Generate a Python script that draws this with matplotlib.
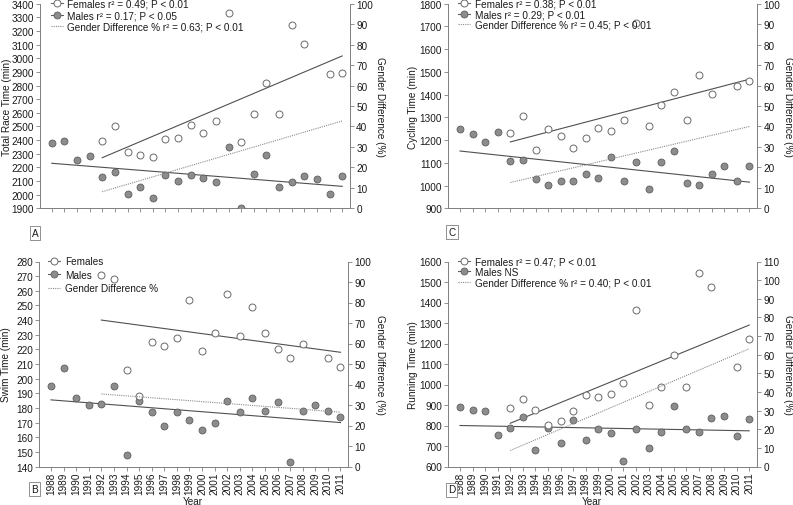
import matplotlib
matplotlib.use('Agg')
import matplotlib.pyplot as plt
import numpy as np
from matplotlib.lines import Line2D

plt.rcParams['font.family'] = ['Liberation Sans', 'DejaVu Sans']

nan = np.nan
years = list(range(1988, 2012))

# Panel A: total race time
total_fem = [nan, nan, nan, nan, 2391, 2501, 2310, 2288, 2274, 2408, 2416, 2512,
             2455, 2543, 3332, 2389, 2591, 2819, 2594, 3246, 3104, nan, 2885, 2892]
total_male = [2379, 2391, 2257, 2281, 2127, 2169, 2008, 2056, 1973, 2147, 2103, 2147,
              2122, 2093, 2347, 1905, 2149, 2288, 2054, 2093, 2135, 2113, 2008, 2135]
# Panel C: cycling time
cyc_fem = [nan, nan, nan, nan, 1232, 1304, 1155, 1251, 1217, 1167, 1208, 1255,
           1239, 1288, 1714, 1261, 1354, 1412, 1289, 1485, 1404, nan, 1440, 1460]
cyc_male = [1250, 1227, 1190, 1236, 1106, 1114, 1028, 1002, 1022, 1022, 1049, 1035,
            1125, 1020, 1102, 987, 1102, 1151, 1010, 1004, 1052, 1085, 1022, 1085]
# Panel B: swim time
swim_fem = [nan, nan, nan, nan, 271, 268, 206, 188, 225, 222, 228, 254,
            219, 231, 258, 229, 249, 231, 220, 214, 224, nan, 214, 208]
swim_male = [195, 207, 187, 182, 183, 195, 148, 185, 177, 168, 177, 172,
             165, 170, 185, 177, 187, 178, 184, 143, 178, 182, 178, 174]
# Panel D: running time
run_fem = [nan, nan, nan, nan, 886, 931, 876, 803, 821, 871, 947, 939,
           956, 1009, 1361, 899, 986, 1144, 986, 1546, 1475, nan, 1087, 1223]
run_male = [889, 876, 869, 754, 787, 842, 680, 790, 715, 827, 730, 782,
            761, 626, 783, 689, 769, 895, 783, 770, 839, 847, 748, 834]

# Regression lines (start/end values)
fem_trend_years = [1992, 2011]
male_trend_years = [1988, 2011]
diff_trend_years = [1992, 2011]
total_fem_trend = [2271, 3017]
total_male_trend = [2230, 2061]
total_diff_trend = [8.1, 42.7]
cyc_fem_trend = [1192, 1468]
cyc_male_trend = [1152, 1015]
cyc_diff_trend = [12.6, 40.0]
swim_fem_trend = [240, 218]
swim_male_trend = [185.5, 170]
swim_diff_trend = [35.4, 26.5]
run_fem_trend = [811, 1290]
run_male_trend = [800, 774]
run_diff_trend = [8.6, 63.2]

W, H = 793, 506
fig = plt.figure(figsize=(W / 100, H / 100), dpi=100)

SPINE = '#7f7f7f'
MALE_FC = '#8c8c8c'
MALE_EC = '#5e5e5e'
FEM_EC = '#6a6a6a'
TREND = '#505050'
DIFF = '#8a8a8a'
FS = 7.2


def rect(l, r, t, b):
    return [l / W, 1 - b / H, (r - l) / W, (b - t) / H]


def panel(px, fem, male, fem_tr, male_tr, diff_tr, ylim, ystep, rlim, ylabel,
          labels, letter, letter_xy, show_years, leg_x, leg_y, leg_sp,
          ylab_x, rlab_x, year_xy):
    l, r, t, b = px
    ax = fig.add_axes(rect(l, r, t, b))
    ax2 = ax.twinx()
    ax.set_xlim(1987.07, 2011.62)
    ax.set_ylim(*ylim)
    ax2.set_ylim(*rlim)
    ax.set_yticks(np.arange(ylim[0], ylim[1] + ystep / 2, ystep))
    ax2.set_yticks(np.arange(rlim[0], rlim[1] + 5, 10))
    ax.set_xticks(years)
    if show_years:
        ax.set_xticklabels([str(y) for y in years], rotation=90,
                           fontsize=5.5,
                           family=['Liberation Sans Narrow', 'Liberation Sans'])
    else:
        ax.set_xticklabels([])
    for s in ['top', 'right']:
        ax.spines[s].set_visible(False)
    for s in ['top', 'left', 'bottom']:
        ax2.spines[s].set_visible(False)
    for s in ['left', 'bottom']:
        ax.spines[s].set_color(SPINE)
        ax.spines[s].set_linewidth(0.7)
    ax2.spines['right'].set_color(SPINE)
    ax2.spines['right'].set_linewidth(0.7)
    for a in (ax, ax2):
        a.tick_params(direction='out', length=3, width=0.6, color=SPINE,
                      labelsize=FS, pad=1.5, labelcolor='#1a1a1a')
    ax.tick_params(axis='x', pad=0.5)

    ax.plot(fem_trend_years, fem_tr, color=TREND, lw=0.8, zorder=2)
    ax.plot(male_trend_years, male_tr, color=TREND, lw=0.8, zorder=2)
    ax2.plot(diff_trend_years, diff_tr, color=DIFF, lw=0.8, ls=(0, (1, 1)),
             zorder=2)
    ax.plot(years, male, ls='none', marker='o', ms=5.0, mfc=MALE_FC,
            mec=MALE_EC, mew=0.6, zorder=3)
    ax.plot(years, fem, ls='none', marker='o', ms=5.0, mfc='white',
            mec=FEM_EC, mew=0.7, zorder=3)

    handles = [
        Line2D([], [], color=FEM_EC, lw=0.8, marker='o', ms=5.0, mfc='white',
               mec=FEM_EC, mew=0.7),
        Line2D([], [], color=MALE_EC, lw=0.8, marker='o', ms=5.0,
               mfc=MALE_FC, mec=MALE_EC, mew=0.6),
        Line2D([], [], color=DIFF, lw=0.8, ls=(0, (1, 1))),
    ]
    leg = ax.legend(handles, labels, loc='upper left',
                    bbox_to_anchor=(leg_x, leg_y), frameon=False,
                    fontsize=FS, handlelength=1.2, handletextpad=0.45,
                    borderpad=0, borderaxespad=0, labelspacing=leg_sp,
                    numpoints=1)
    for txt in leg.get_texts():
        txt.set_color('#1a1a1a')

    cy = 1 - ((t + b) / 2) / H
    fig.text(ylab_x / W, cy, ylabel, rotation=90, ha='center', va='center',
             fontsize=FS, color='#1a1a1a')
    fig.text(rlab_x / W, cy, 'Gender Difference (%)', rotation=270,
             ha='center', va='center', fontsize=FS, color='#1a1a1a')
    fig.text(letter_xy[0] / W, 1 - letter_xy[1] / H, letter, ha='center',
             va='center', fontsize=FS, color='#1a1a1a',
             bbox=dict(boxstyle='square,pad=0.2', fc='white', ec=SPINE,
                       lw=0.6))
    if year_xy is not None:
        fig.text(year_xy[0] / W, 1 - year_xy[1] / H, 'Year', ha='center',
                 va='center', fontsize=FS, color='#1a1a1a')
    return ax, ax2


panel((40, 350, 4.7, 209.3), total_fem, total_male, total_fem_trend,
      total_male_trend, total_diff_trend, (1900, 3400), 100, (0, 100),
      'Total Race Time (min)',
      ['Females r² = 0.49; P < 0.01', 'Males r² = 0.17; P < 0.05',
       'Gender Difference % r² = 0.63; P < 0.01'],
      'A', (35, 234), False, 0.034, 1.025, 0.15, 7, 380, None)

panel((448.3, 757.3, 4.7, 209.3), cyc_fem, cyc_male, cyc_fem_trend,
      cyc_male_trend, cyc_diff_trend, (900, 1800), 100, (0, 100),
      'Cycling Time (min)',
      ['Females r² = 0.38; P < 0.01', 'Males r² = 0.29; P < 0.01',
       'Gender Difference % r² = 0.45; P < 0.01'],
      'C', (452, 233), False, 0.032, 1.025, 0.05, 413, 788, None)

panel((39.3, 348.3, 262.5, 467.5), swim_fem, swim_male, swim_fem_trend,
      swim_male_trend, swim_diff_trend, (140, 280), 10, (0, 100),
      'Swim Time (min)',
      ['Females', 'Males', 'Gender Difference %'],
      'B', (34.5, 490), True, 0.029, 1.025, 0.35, 6, 380, (193, 502.5))

panel((448.3, 757.0, 262.5, 467.5), run_fem, run_male, run_fem_trend,
      run_male_trend, run_diff_trend, (600, 1600), 100, (0, 110),
      'Running Time (min)',
      ['Females r² = 0.47; P < 0.01', 'Males NS',
       'Gender Difference % r² = 0.40; P < 0.01'],
      'D', (451.5, 490.5), True, 0.032, 1.025, 0.05, 413, 788, (592, 502.5))

fig.savefig('out.png', dpi=100)
